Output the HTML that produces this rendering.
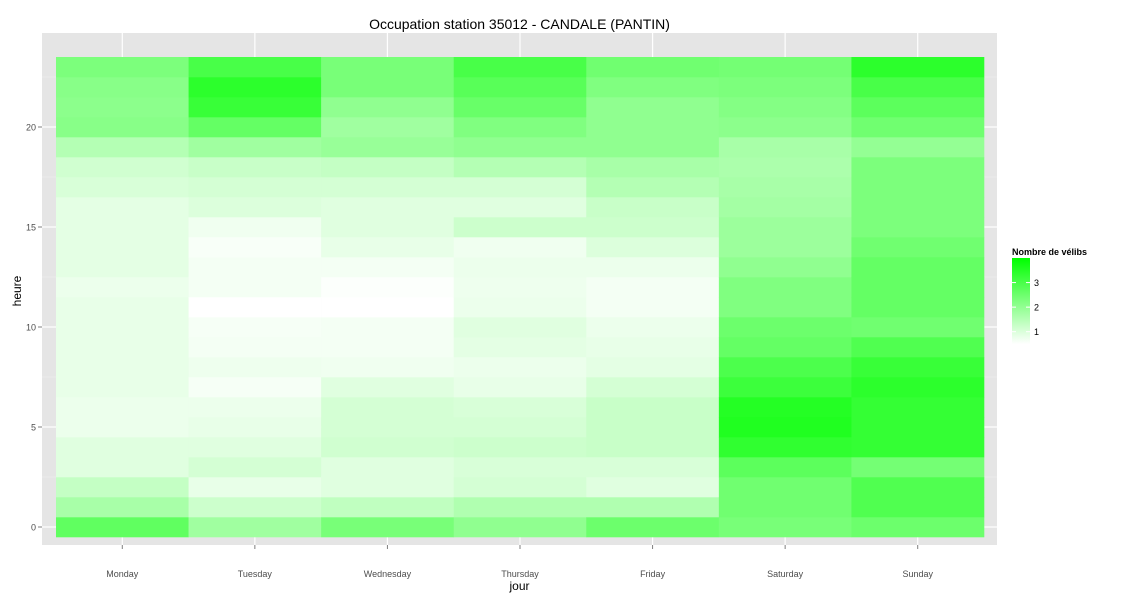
<!DOCTYPE html>
<html><head><meta charset="utf-8"><style>
body{margin:0;background:#fff;font-family:"Liberation Sans",sans-serif}
</style></head><body>
<svg id="chart" width="1125" height="600" xmlns="http://www.w3.org/2000/svg" font-family="Liberation Sans, sans-serif">
<defs><linearGradient id="lg" x1="0" y1="1" x2="0" y2="0"><stop offset="0" stop-color="#ffffff"/><stop offset="1" stop-color="#00ff00"/></linearGradient></defs>
<rect x="42" y="33" width="955" height="512" fill="#e5e5e5"/>
<g id="grid"></g><g id="cells"></g><g id="axes"></g>
<text x="519.5" y="29" font-size="14" text-anchor="middle">Occupation station 35012 - CANDALE (PANTIN)</text>
<text x="519.5" y="590" font-size="12" text-anchor="middle">jour</text>
<text transform="translate(21,291) rotate(-90)" font-size="12" text-anchor="middle">heure</text>
<g>
<text x="1012" y="255" font-size="9" font-weight="bold">Nombre de vélibs</text>
<rect x="1012" y="258" width="18" height="86" fill="url(#lg)"/>
<g id="legticks"></g>
</g>
</svg>
<script>
const days=["Monday","Tuesday","Wednesday","Thursday","Friday","Saturday","Sunday"];
const yTicks=[0,5,10,15,20];
const legendTicks=[1,2,3];
const monday=[2.68,1.69,1.31,0.93,0.93,0.76,0.76,0.82,0.82,0.82,0.82,0.82,0.76,0.87,0.87,0.87,0.87,1.04,1.15,1.53,2.13,2.08,2.13,2.30];
const tuesday=[1.80,1.20,0.82,1.09,0.93,0.82,0.76,0.62,0.73,0.65,0.62,0.50,0.65,0.65,0.60,0.71,0.98,1.09,1.26,1.80,2.63,3.23,3.40,3.01];
const wednesday=[2.35,1.36,0.93,0.93,1.15,1.09,1.09,0.93,0.71,0.65,0.65,0.50,0.54,0.65,0.82,0.93,0.93,1.09,1.31,1.91,1.80,2.02,2.35,2.35];
const thursday=[2.02,1.58,1.09,1.04,1.20,1.09,1.04,0.82,0.76,0.87,0.93,0.76,0.73,0.76,0.71,1.20,0.93,1.09,1.53,2.02,2.24,2.57,2.79,3.01];
const friday=[2.52,1.58,0.93,1.04,1.26,1.26,1.26,1.09,0.87,0.82,0.76,0.65,0.65,0.76,0.98,1.20,1.26,1.53,1.69,2.02,2.02,2.02,2.24,2.46];
const saturday=[2.35,2.46,2.46,2.74,3.34,3.56,3.51,3.18,2.96,2.63,2.52,2.24,2.24,2.02,1.86,1.86,1.75,1.69,1.64,1.69,2.08,2.19,2.30,2.41];
const sunday=[2.52,2.90,2.90,2.41,3.29,3.29,3.29,3.40,3.23,2.90,2.46,2.63,2.63,2.63,2.46,2.30,2.30,2.30,2.30,1.97,2.46,2.74,3.01,3.40];
const series=[monday,tuesday,wednesday,thursday,friday,saturday,sunday];
const NS="http://www.w3.org/2000/svg";
const vmin=0.5,vmax=4.0;
const x0=56,cw=928/days.length;
function xc(i){return x0+cw*(i+0.5);}
function yh(h){return 527-20*h;}
function col(v){let t=Math.max(0,Math.min(1,(v-vmin)/(vmax-vmin)));let c=Math.round(255*(1-t));return `rgb(${c},255,${c})`;}
function mk(tag,attrs,parent){const e=document.createElementNS(NS,tag);for(const k in attrs)e.setAttribute(k,attrs[k]);parent.appendChild(e);return e;}
const grid=document.getElementById('grid'),cells=document.getElementById('cells'),axes=document.getElementById('axes');
yTicks.forEach(t=>{
  const l=mk('line',{x1:42,x2:997,y1:yh(t),y2:yh(t),stroke:'#fff','stroke-width':1.2},grid);
  
  
  const m=mk('line',{x1:42,x2:997,y1:yh(t+2.5),y2:yh(t+2.5),stroke:'#f2f2f2','stroke-width':0.6},grid);
  
  
  const tk=mk('line',{x1:38,x2:42,y1:yh(t),y2:yh(t),stroke:'#7f7f7f'},axes);
  
  
  const tx=mk('text',{x:36,y:yh(t)+3.5,'font-size':9,'text-anchor':'end',fill:'#4d4d4d'},axes);
  tx.textContent=t;
  
  
});
days.forEach((d,i)=>{
  const l=mk('line',{x1:xc(i),x2:xc(i),y1:33,y2:545,stroke:'#fff','stroke-width':1.2},grid);
  
  
  const tk=mk('line',{x1:xc(i),x2:xc(i),y1:545,y2:549,stroke:'#7f7f7f'},axes);
  
  
  const tx=mk('text',{x:xc(i),y:577,'font-size':9,'text-anchor':'middle',fill:'#4d4d4d'},axes);
  tx.textContent=d;
  
  
  series[i].forEach((v,h)=>{
    const r=mk('rect',{x:x0+cw*i,y:yh(h)-10,width:cw+0.3,height:20.3,fill:col(v)},cells);
    
    
  });
});
const lt=document.getElementById('legticks');
legendTicks.forEach(t=>{
  const y=344-(t-vmin)/(vmax-vmin)*86;
  const a=mk('line',{x1:1012,x2:1016,y1:y,y2:y,stroke:'#fff'},lt);
  
  
  const b=mk('line',{x1:1026,x2:1030,y1:y,y2:y,stroke:'#fff'},lt);
  
  
  const tx=mk('text',{x:1034,y:y+3.5,'font-size':9},lt);
  tx.textContent=t;
  
  
});
</script>
</body></html>
